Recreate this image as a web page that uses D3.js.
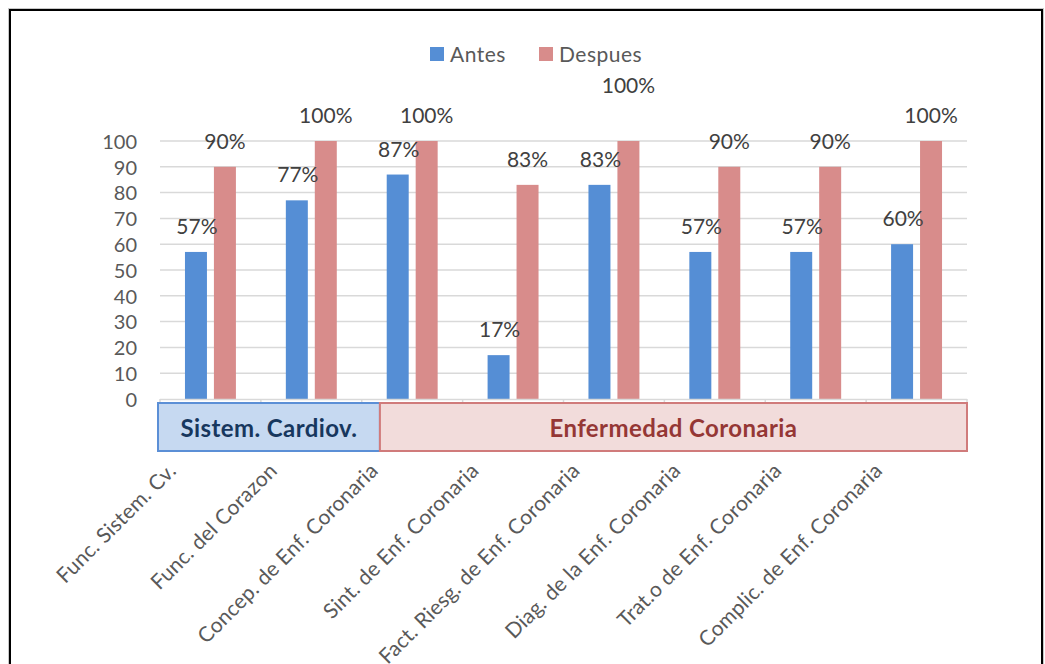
<!DOCTYPE html>
<html><head><meta charset="utf-8">
<script src="https://cdn.jsdelivr.net/npm/d3@7/dist/d3.min.js"></script>
<style>
html,body{margin:0;padding:0;background:#fff;}
svg{display:block;}
text{font-family:Lato,"Open Sans",sans-serif;}
</style></head>
<body>
<svg id="chart" width="1045" height="664"></svg>
<script>
// ---- data ----
const categories = ["Func. Sistem. Cv.","Func. del Corazon","Concep. de Enf. Coronaria","Sint. de Enf. Coronaria","Fact. Riesg. de Enf. Coronaria","Diag. de la Enf. Coronaria","Trat.o de Enf. Coronaria","Complic. de Enf. Coronaria"];
const series = ["Antes","Despues"];
const antes = [57,77,87,17,83,57,57,60];
const despues = [90,100,100,83,100,90,90,100];
const yTicks = [0,10,20,30,40,50,60,70,80,90,100];
const groupLabels = ["Sistem. Cardiov.","Enfermedad Coronaria"];
const groupStart = [0, 2.18];
const groupEnd = [2.18, 8];

// ---- layout ----
const svg = d3.select("#chart");
const L = 160, R = 967, T = 141, B = 399;
const colors = {Antes:"#558ed5", Despues:"#d88c8b"};

// frame
svg.append("rect").attr("x",8.5).attr("y",8.5).attr("width",1035).attr("height",700)
  .attr("fill","none").attr("stroke","#c8c8c8").attr("stroke-width",1);
svg.append("rect").attr("x",10).attr("y",10).attr("width",1032).attr("height",700)
  .attr("fill","#fff").attr("stroke","#000").attr("stroke-width",2);

const x0 = d3.scaleBand().domain(categories).range([L,R]).paddingInner(0).paddingOuter(0);
const x1 = d3.scaleBand().domain(series).range([0,x0.bandwidth()]).paddingInner(0.241).paddingOuter(0.862);
const y = d3.scaleLinear().domain([0,100]).range([B,T]);
const xc = d3.scaleLinear().domain([0,categories.length]).range([L,R]);

// gridlines
svg.append("g").selectAll("line").data(yTicks.filter(d=>d>0)).join("line")
  .attr("x1",L).attr("x2",R).attr("y1",d=>y(d)).attr("y2",d=>y(d))
  .attr("stroke","#d9d9d9").attr("stroke-width",1.5);

// y axis labels
const yAxis = d3.axisLeft(y).tickValues(yTicks).tickSize(0).tickPadding(0);
const ya = svg.append("g").attr("transform",`translate(${L-23},0)`).call(yAxis);
ya.select(".domain").remove();
ya.selectAll("text").attr("fill","#595959").style("font-size","20px").attr("font-family","Lato").attr("dy","0.36em");

// bars
const data = categories.map((c,i)=>({cat:c, vals:[{s:"Antes",v:antes[i]},{s:"Despues",v:despues[i]}]}));
const cg = svg.append("g").selectAll("g").data(data).join("g")
  .attr("transform",d=>`translate(${x0(d.cat)},0)`);
cg.selectAll("rect").data(d=>d.vals).join("rect")
  .attr("x",d=>x1(d.s)).attr("width",x1.bandwidth())
  .attr("y",d=>y(d.v)).attr("height",d=>y(0)-y(d.v))
  .attr("fill",d=>colors[d.s]);

// x axis baseline & ticks
svg.append("line").attr("x1",L).attr("x2",R).attr("y1",B+0.5).attr("y2",B+0.5)
  .attr("stroke","#d9d9d9").attr("stroke-width",1.5);
svg.append("g").selectAll("line").data(d3.range(categories.length+1)).join("line")
  .attr("x1",d=>xc(d)).attr("x2",d=>xc(d)).attr("y1",B).attr("y2",B+5)
  .attr("stroke","#d9d9d9").attr("stroke-width",1.5);

// value labels
const nudge = (ci,s)=> (ci===4 && s==="Despues") ? -30 : 0;
data.forEach((d,ci)=>{
  d.vals.forEach(v=>{
    svg.append("text")
      .attr("x",x0(d.cat)+x1(v.s)+x1.bandwidth()/2+(v.s==="Antes"?1:0))
      .attr("y",y(v.v)-18+nudge(ci,v.s))
      .attr("text-anchor","middle").attr("fill","#404040").style("font-size","21px")
      .text(v.v+"%");
  });
});

// group boxes
const gStroke = ["#5b8fd6","#d07b7b"], gFill=["#c6d9f1","#f2dcdb"], gText=["#17375e","#953735"];
groupLabels.forEach((g,i)=>{
  const xa = xc(groupStart[i]) - (i===0?2:0), xb = xc(groupEnd[i]);
  svg.append("rect").attr("x",xa).attr("y",403).attr("width",xb-xa).attr("height",48)
    .attr("fill",gFill[i]).attr("stroke",gStroke[i]).attr("stroke-width",2);
  svg.append("text").attr("x",(xa+xb)/2).attr("y",428).attr("dy","0.36em")
    .attr("text-anchor","middle").attr("fill",gText[i]).attr("font-weight","bold")
    .style("font-size","24px").style("letter-spacing","0.4px").text(g);
});

// category labels rotated
svg.append("g").selectAll("text").data(categories).join("text")
  .attr("transform",d=>`translate(${x0(d)+x0.bandwidth()/2-33},472) rotate(-45)`)
  .attr("text-anchor","end").attr("fill","#595959")
  .style("font-size","21px").style("letter-spacing","0.2px")
  .text(d=>d);

// legend
const lg = svg.append("g");
const lx = [430,539];
series.forEach((s,i)=>{
  lg.append("rect").attr("x",lx[i]).attr("y",47).attr("width",14).attr("height",14).attr("fill",colors[s]);
  lg.append("text").attr("x",lx[i]+20).attr("y",54).attr("dy","0.36em")
    .attr("fill","#595959").style("font-size","21px").style("letter-spacing","0.5px").text(s);
});
</script>
</body></html>
